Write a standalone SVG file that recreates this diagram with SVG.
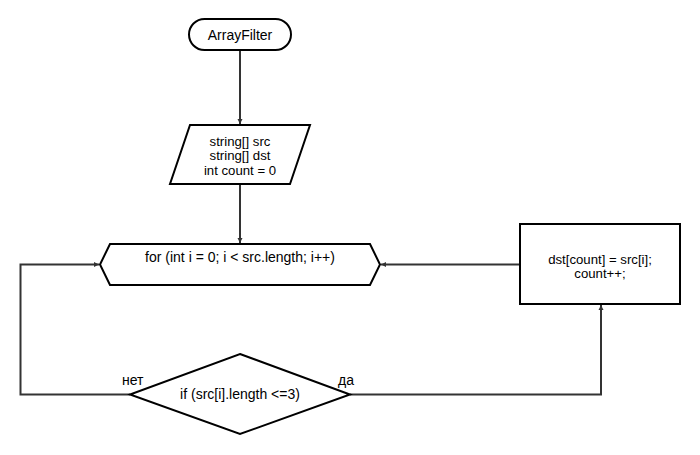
<svg xmlns="http://www.w3.org/2000/svg" width="700" height="455" viewBox="0 0 700 455">
<style>
.s{fill:#fff;stroke:#000;stroke-width:2}
.t{font-family:"Liberation Sans",Arial,sans-serif;font-size:14px;fill:#000;text-anchor:middle}
.m{font-family:"Liberation Sans",Arial,sans-serif;font-size:13.2px;fill:#000;text-anchor:middle}
.l{font-family:"Liberation Sans",Arial,sans-serif;font-size:14px;fill:#000}
.c{fill:none;stroke:#333;stroke-width:2}
</style>
<defs>
<marker id="a" markerWidth="6" markerHeight="6" refX="5" refY="3" orient="auto" markerUnits="userSpaceOnUse">
<path d="M0,0.5 L5,3 L0,5.5 Z" fill="#333"/>
</marker>
</defs>
<rect width="700" height="455" fill="#fff"/>
<g id="connectors">
<path class="c" d="M240,50 V124" marker-end="url(#a)"/>
<path class="c" d="M240,184 V243" marker-end="url(#a)"/>
<path class="c" d="M520,264.5 H381" marker-end="url(#a)"/>
<path class="c" d="M130,394.5 H20.5 V264.5 H99" marker-end="url(#a)"/>
<path class="c" d="M350,394.5 H601 V305" marker-end="url(#a)"/>
</g>
<g id="start">
<rect class="s" x="189" y="19" width="102" height="31" rx="15.5"/>
<text class="t" x="240" y="40">ArrayFilter</text>
</g>
<g id="input">
<polygon class="s" points="190,125 310,125 290,184 170,184"/>
<text class="m" x="240" y="145.5"><tspan x="240">string[] src</tspan><tspan x="240" dy="14.8">string[] dst</tspan><tspan x="240" dy="14.8">int count = 0</tspan></text>
</g>
<g id="loop">
<polygon class="s" points="110,244 370,244 380,264.5 370,285 110,285 100,264.5"/>
<text class="t" x="240" y="262">for (int i = 0; i &lt; src.length; i++)</text>
</g>
<g id="process">
<rect class="s" x="520" y="224" width="160" height="80"/>
<text class="m" x="600" y="263.6"><tspan x="600">dst[count] = src[i];</tspan><tspan x="600" dy="14.8">count++;</tspan></text>
</g>
<g id="decision">
<polygon class="s" points="240,354 350,394.5 240,434 130,394.5"/>
<text class="t" x="240" y="399">if (src[i].length &lt;=3)</text>
<text class="l" x="122" y="385">нет</text>
<text class="l" x="338" y="385">да</text>
</g>
</svg>
